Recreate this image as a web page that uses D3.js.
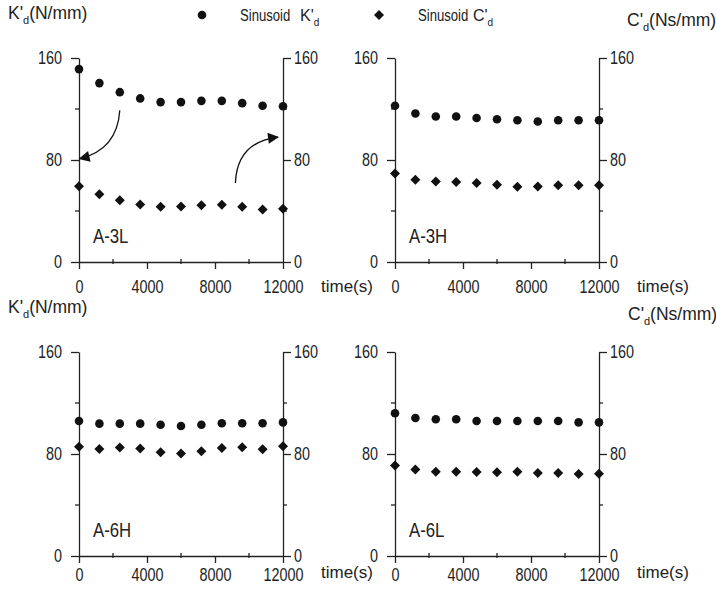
<!DOCTYPE html>
<html>
<head>
<meta charset="utf-8">
<script src="https://cdn.jsdelivr.net/npm/d3@7"></script>
<style>
  body { margin: 0; background: #fff; }
  text { fill: #222; font-family: "Liberation Sans", Arial, sans-serif; }
</style>
</head>
<body>
<div id="chart"></div>
<script>
// time stamps (s)
const times = [0, 1200, 2400, 3600, 4800, 6000, 7200, 8400, 9600, 10800, 12000];

// storage stiffness K'd (N/mm) and damping C'd (Ns/mm)
const k3L = [151.3, 140.3, 133.2, 128.3, 125.4, 125.4, 126.4, 126.4, 124.6, 122.5, 122.2];
const c3L = [59.5, 53.2, 48.5, 45.1, 43.3, 43.5, 44.6, 44.9, 43.3, 41.2, 41.7];
const k3H = [122.5, 116.5, 114.1, 114.1, 113.0, 112.0, 111.2, 110.2, 111.2, 111.2, 111.2];
const c3H = [69.5, 64.5, 63.2, 62.7, 61.9, 60.6, 59.0, 59.3, 60.1, 60.1, 60.1];
const k6H = [105.9, 103.8, 103.8, 103.8, 103.0, 102.0, 103.0, 104.1, 104.1, 104.1, 104.8];
const c6H = [85.6, 84.0, 85.1, 84.3, 81.4, 80.4, 82.2, 84.8, 85.3, 83.8, 86.1];
const k6L = [111.9, 108.2, 107.2, 107.2, 105.9, 105.9, 105.9, 105.9, 105.9, 104.8, 104.8];
const c6L = [71.0, 67.9, 66.1, 66.1, 65.8, 65.6, 66.1, 65.0, 65.0, 64.3, 64.5];

const panelNames = ["A-3L", "A-3H", "A-6H", "A-6L"];
const kSeries = [k3L, k3H, k6H, k6L];
const cSeries = [c3L, c3H, c6H, c6L];

const xTicks = [0, 4000, 8000, 12000];
const xMinor = [2000, 6000, 10000];
const yTicks = [0, 80, 160];
const yMinor = [40, 120];

// arrows in the A-3L panel: [fromTime, fromValue, toTime, toValue, ctrlTime, ctrlValue]
const arrows = [
  [2400, 119, 40, 81, 2250, 88],
  [9200, 62, 11700, 98, 9300, 94]
];

const width = 716, height = 594;
const pw = 204, ph = 204;
const origins = [[79, 58], [395, 58], [79, 352], [395, 352]];

const svg = d3.select("#chart").append("svg")
    .attr("width", width)
    .attr("height", height);

svg.append("defs").append("marker")
    .attr("id", "head")
    .attr("viewBox", "0 0 10 10")
    .attr("refX", 9).attr("refY", 5)
    .attr("markerWidth", 15).attr("markerHeight", 11)
    .attr("markerUnits", "userSpaceOnUse")
    .attr("orient", "auto")
    .append("path")
    .attr("d", "M0,0 L10,5 L0,10 Z")
    .attr("fill", "#111");

let x = d3.scaleLinear().domain([0, 12000]).range([0, pw]);
let y = d3.scaleLinear().domain([0, 160]).range([ph, 0]);

const circle = d3.symbol().type(d3.symbolCircle).size(58);
const diamond = d3.symbol().type(d3.symbolSquare).size(50);

// the original uses a condensed face: squeeze regular glyphs about their anchor point
function squeeze(sel, f) {
    sel.each(function () {
        let ax = +(this.getAttribute("x") || 0);
        d3.select(this).attr("transform", `translate(${ax},0) scale(${f},1) translate(${-ax},0)`);
    });
}

function styleAxis(g) {
    g.select(".domain").attr("stroke", "#222").attr("stroke-width", 1.3);
    g.selectAll(".tick line").attr("stroke", "#222").attr("stroke-width", 1.3);
    g.selectAll("text")
        .attr("font-family", "Liberation Sans, Arial, sans-serif")
        .attr("font-size", "18px")
        .attr("fill", "#222");
    squeeze(g.selectAll("text"), 0.8);
}

origins.forEach((o, i) => {
    let g = svg.append("g").attr("transform", `translate(${o[0]},${o[1]})`);

    // minor ticks
    g.selectAll(".minorL").data(yMinor).enter().append("line")
        .attr("x1", -4).attr("x2", 0)
        .attr("y1", d => y(d)).attr("y2", d => y(d))
        .attr("stroke", "#222").attr("stroke-width", 1.3);
    g.selectAll(".minorR").data(yMinor).enter().append("line")
        .attr("x1", pw).attr("x2", pw + 4)
        .attr("y1", d => y(d)).attr("y2", d => y(d))
        .attr("stroke", "#222").attr("stroke-width", 1.3);
    g.selectAll(".minorB").data(xMinor).enter().append("line")
        .attr("x1", d => x(d)).attr("x2", d => x(d))
        .attr("y1", ph - 3).attr("y2", ph + 2)
        .attr("stroke", "#222").attr("stroke-width", 1.3);

    g.append("g")
        .call(d3.axisLeft(y).tickValues(yTicks).tickSize(8).tickSizeOuter(0).tickPadding(9))
        .call(styleAxis);
    g.append("g")
        .attr("transform", `translate(${pw},0)`)
        .call(d3.axisRight(y).tickValues(yTicks).tickSize(8).tickSizeOuter(0).tickPadding(3))
        .call(styleAxis);
    g.append("g")
        .attr("transform", `translate(0,${ph})`)
        .call(d3.axisBottom(x).tickValues(xTicks).tickFormat(d3.format("d"))
            .tickSize(7).tickSizeOuter(0).tickPadding(i < 2 ? 11 : 5))
        .call(styleAxis);

    // x-axis title
    g.append("text")
        .attr("x", pw + 38)
        .attr("y", ph + (i < 2 ? 30 : 22))
        .attr("font-size", "17px")
        .text("time(s)");

    // panel label
    let lab = g.append("text")
        .attr("x", 14)
        .attr("y", y(15))
        .attr("font-size", "20px")
        .text(panelNames[i]);
    squeeze(lab, 0.84);

    g.selectAll(".kpt").data(kSeries[i]).enter().append("path")
        .attr("d", circle)
        .attr("transform", (d, j) => `translate(${x(times[j])},${y(d)})`)
        .attr("fill", "#111");

    g.selectAll(".cpt").data(cSeries[i]).enter().append("path")
        .attr("d", diamond)
        .attr("transform", (d, j) => `translate(${x(times[j])},${y(d)}) rotate(45)`)
        .attr("fill", "#111");

    if (i === 0) {
        arrows.forEach(a => {
            g.append("path")
                .attr("d", `M${x(a[0])},${y(a[1])} Q${x(a[4])},${y(a[5])} ${x(a[2])},${y(a[3])}`)
                .attr("fill", "none")
                .attr("stroke", "#111")
                .attr("stroke-width", 1.3)
                .attr("marker-end", "url(#head)");
        });
    }
});

// axis titles with subscripts
function unitTitle(xp, yp, letter, unit) {
    let t = svg.append("text")
        .attr("x", xp).attr("y", yp)
        .attr("font-size", "17.5px");
    t.append("tspan").text(letter + "'");
    t.append("tspan").attr("dy", 5).attr("font-size", "11px").text("d");
    t.append("tspan").attr("dy", -5).text(unit);
}
unitTitle(8, 19, "K", "(N/mm)");
unitTitle(8, 313, "K", "(N/mm)");
unitTitle(627, 26, "C", "(Ns/mm)");
unitTitle(628, 320, "C", "(Ns/mm)");

// legend
let legend = svg.append("g").attr("class", "legend");
legend.append("path").attr("d", circle).attr("transform", "translate(202,15)").attr("fill", "#111");
legend.append("path").attr("d", diamond).attr("transform", "translate(379,15) rotate(45)").attr("fill", "#111");

function legendText(xp, words) {
    let t = legend.append("text").attr("x", xp).attr("y", 21).attr("font-size", "16px").text(words);
    squeeze(t, 0.82);
}
function subLabel(xp, letter) {
    let t = legend.append("text").attr("x", xp).attr("y", 21).attr("font-size", "16px");
    t.append("tspan").text(letter + "'");
    t.append("tspan").attr("dy", 5).attr("font-size", "10px").text("d");
}
legendText(240, "Sinusoid");
subLabel(300, "K");
legendText(418, "Sinusoid");
subLabel(473, "C");
</script>
</body>
</html>
